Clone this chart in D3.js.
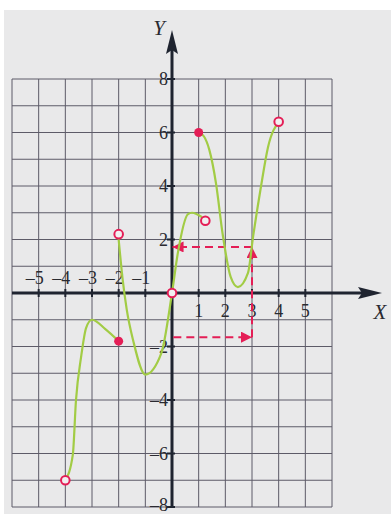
<!DOCTYPE html>
<html>
<head>
<meta charset="utf-8">
<script src="https://cdn.jsdelivr.net/npm/d3@7"></script>
<style>
  body { margin: 0; background: #ffffff; }
  svg { display: block; }
</style>
</head>
<body>
<svg id="plot"></svg>
<script>
svgWidth = 391;
svgHeight = 514;

// grid range and tick labels
xDomain = [-6, 6];
yDomain = [-8, 8];
xTicks = [-5, -4, -3, -2, -1, 1, 2, 3, 4, 5];
yTicks = [8, 6, 4, 2, -2, -4, -6, -8];

// the three pieces of the curve
piece1X = [-4, -3.72, -3.6, -3.41, -3.22, -3.0, -2.5, -2];
piece1Y = [-7, -6.05, -4, -2.4, -1.3, -1.0, -1.35, -1.8];

piece2X = [-2, -1.85, -1.7, -1.45, -1.0, -0.4, 0, 0.22, 0.6, 0.75, 1.1];
piece2Y = [2.0, 0.5, -0.6, -1.8, -3.05, -2.25, 0, 1.5, 2.95, 3.0, 2.85];

piece3X = [1, 1.2, 1.4, 1.65, 1.9, 2.2, 2.47, 2.85, 3.04, 3.34, 3.6, 4];
piece3Y = [6, 5.85, 5.35, 4.1, 2.2, 0.6, 0.22, 0.75, 2.1, 4.0, 5.45, 6.4];

// end points
filledX = [-2, 1];
filledY = [-1.8, 6];
openX = [-4, -2, 0, 1.25, 4];
openY = [-7, 2.2, 0, 2.7, 6.4];

// dashed red arrows (from -> to)
arrowFromX = [0.05, 3, 3];
arrowFromY = [-1.65, -1.65, 1.72];
arrowToX = [3, 3, 0.02];
arrowToY = [-1.65, 1.72, 1.72];

green = "#a2cc45";
red = "#e41e56";
ink = "#1f2430";
gridColor = "#5d5b68";

function makeChart() {
    const svg = d3.select("#plot")
        .attr("width", svgWidth)
        .attr("height", svgHeight)
        .attr("viewBox", [0, 0, svgWidth, svgHeight]);

    x = d3.scaleLinear().domain(xDomain).range([12, 332]);
    y = d3.scaleLinear().domain(yDomain).range([507, 79]);

    // paper
    svg.append("rect")
        .attr("x", 4).attr("y", 10)
        .attr("width", svgWidth - 4).attr("height", svgHeight - 10)
        .attr("fill", "#e9e9ea");

    const defs = svg.append("defs");
    defs.append("marker")
        .attr("id", "redHead")
        .attr("viewBox", "0 -5 10 10")
        .attr("refX", 10).attr("refY", 0)
        .attr("markerWidth", 11).attr("markerHeight", 11)
        .attr("markerUnits", "userSpaceOnUse")
        .attr("orient", "auto")
        .append("path")
        .attr("d", "M0,-5L10,0L0,5Z")
        .attr("fill", red);

    // grid
    const grid = svg.append("g")
        .attr("stroke", gridColor)
        .attr("stroke-width", 1);
    grid.selectAll(".vx")
        .data(d3.range(xDomain[0], xDomain[1] + 1))
        .join("line")
        .attr("x1", d => x(d)).attr("x2", d => x(d))
        .attr("y1", y(yDomain[0])).attr("y2", y(yDomain[1]));
    grid.selectAll(".hy")
        .data(d3.range(yDomain[0], yDomain[1] + 1))
        .join("line")
        .attr("y1", d => y(d)).attr("y2", d => y(d))
        .attr("x1", x(xDomain[0])).attr("x2", x(xDomain[1]));

    // axes
    svg.append("line")
        .attr("x1", x(xDomain[0])).attr("x2", 365)
        .attr("y1", y(0)).attr("y2", y(0))
        .attr("stroke", ink).attr("stroke-width", 3);
    svg.append("path")
        .attr("d", `M382,${y(0)}L358,${y(0) - 6}L362,${y(0)}L358,${y(0) + 6}Z`)
        .attr("fill", ink);

    svg.append("line")
        .attr("x1", x(0)).attr("x2", x(0))
        .attr("y1", y(yDomain[0]) + 1).attr("y2", 48)
        .attr("stroke", ink).attr("stroke-width", 3);
    svg.append("path")
        .attr("d", `M${x(0)},30L${x(0) - 6},54L${x(0)},50L${x(0) + 6},54Z`)
        .attr("fill", ink);

    // ticks
    svg.append("g").selectAll("line")
        .data(xTicks)
        .join("line")
        .attr("x1", d => x(d)).attr("x2", d => x(d))
        .attr("y1", y(0) - 4).attr("y2", y(0) + 4)
        .attr("stroke", ink).attr("stroke-width", 2);
    svg.append("g").selectAll("line")
        .data(yTicks)
        .join("line")
        .attr("x1", x(0) - 5).attr("x2", x(0) + 3)
        .attr("y1", d => y(d)).attr("y2", d => y(d))
        .attr("stroke", ink).attr("stroke-width", 2);

    const label = svg.append("g")
        .attr("font-family", "'Liberation Serif', 'DejaVu Serif', serif")
        .attr("font-size", 18)
        .attr("fill", "#2a2a30");

    label.selectAll(".xl")
        .data(xTicks)
        .join("text")
        .attr("x", d => d < 0 ? x(d) + 5 : x(d))
        .attr("y", d => d < 0 ? y(0) - 9 : y(0) + 24)
        .attr("text-anchor", d => d < 0 ? "end" : "middle")
        .text(d => d < 0 ? "\u2013" + Math.abs(d) : d);

    // the lowest label sits on the page edge, so lift it a little
    label.selectAll(".yl")
        .data(yTicks)
        .join("text")
        .attr("x", x(0) - 4)
        .attr("y", d => d === yDomain[0] ? y(d) + 4 : y(d) + 6)
        .attr("text-anchor", "end")
        .text(d => d < 0 ? "\u2013" + Math.abs(d) : d);

    label.append("text")
        .attr("x", 159).attr("y", 35)
        .attr("text-anchor", "middle")
        .attr("font-style", "italic")
        .attr("font-size", 21)
        .text("Y");
    label.append("text")
        .attr("x", 380).attr("y", 319)
        .attr("text-anchor", "middle")
        .attr("font-style", "italic")
        .attr("font-size", 21)
        .text("X");

    // red dashed arrows
    svg.append("g").selectAll("line")
        .data(arrowFromX.map((d, i) => i))
        .join("line")
        .attr("x1", i => x(arrowFromX[i]))
        .attr("y1", i => y(arrowFromY[i]))
        .attr("x2", i => x(arrowToX[i]))
        .attr("y2", i => y(arrowToY[i]))
        .attr("stroke", red)
        .attr("stroke-width", 2)
        .attr("stroke-dasharray", "8,5")
        .attr("marker-end", "url(#redHead)");

    // curve
    const line = d3.line()
        .x(d => x(d[0]))
        .y(d => y(d[1]))
        .curve(d3.curveMonotoneX);

    const pieces = [
        d3.zip(piece1X, piece1Y),
        d3.zip(piece2X, piece2Y),
        d3.zip(piece3X, piece3Y)
    ];
    svg.append("g").selectAll("path")
        .data(pieces)
        .join("path")
        .attr("d", line)
        .attr("fill", "none")
        .attr("stroke", green)
        .attr("stroke-width", 2.2)
        .attr("stroke-linecap", "round");

    // end points
    svg.append("g").selectAll("circle")
        .data(d3.zip(filledX, filledY))
        .join("circle")
        .attr("cx", d => x(d[0])).attr("cy", d => y(d[1]))
        .attr("r", 4.5)
        .attr("fill", red);

    svg.append("g").selectAll("circle")
        .data(d3.zip(openX, openY))
        .join("circle")
        .attr("cx", d => x(d[0])).attr("cy", d => y(d[1]))
        .attr("r", 4.3)
        .attr("fill", "#f1eff0")
        .attr("stroke", red)
        .attr("stroke-width", 2);
}

makeChart();
</script>
</body>
</html>
